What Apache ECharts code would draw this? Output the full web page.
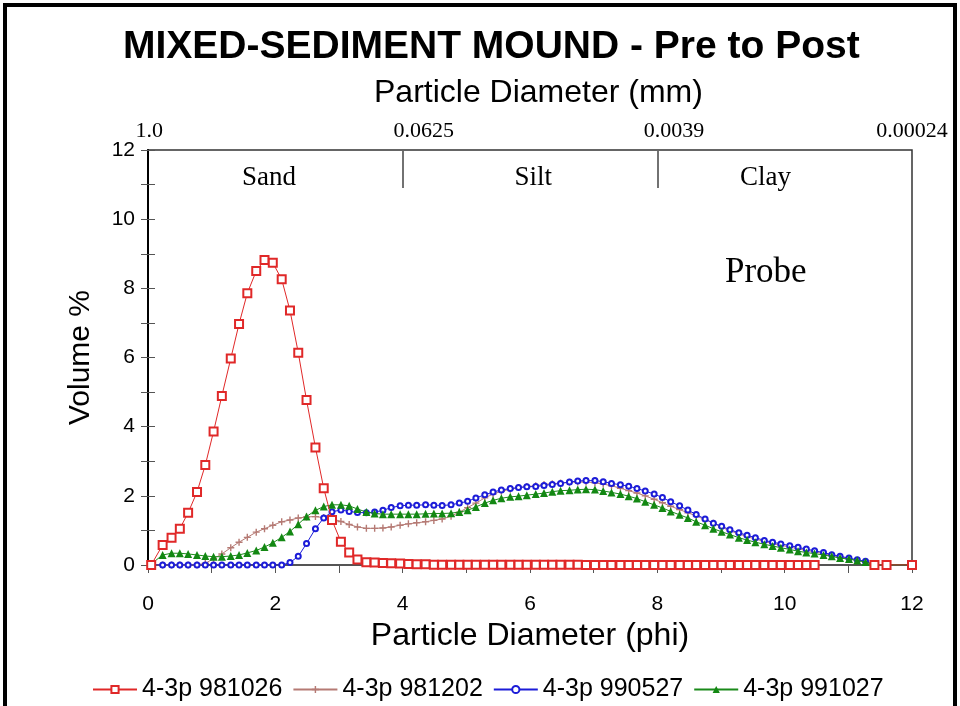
<!DOCTYPE html>
<html>
<head>
<meta charset="utf-8">
<script src="https://cdn.jsdelivr.net/npm/echarts@6/dist/echarts.min.js"></script>
<style>
  html, body { margin: 0; padding: 0; background: #fff; }
  #chart { width: 960px; height: 706px; }
</style>
</head>
<body>
<div id="chart"></div>
<script>
// particle diameter (phi) of each size class
const phi = [
  0.05, 0.23, 0.37, 0.50, 0.63, 0.77, 0.90, 1.03, 1.16, 1.30,
  1.43, 1.56, 1.70, 1.83, 1.96, 2.10, 2.23, 2.36, 2.49, 2.63,
  2.76, 2.89, 3.03, 3.16, 3.29, 3.43, 3.56, 3.69, 3.82, 3.96,
  4.09, 4.22, 4.36, 4.49, 4.62, 4.76, 4.89, 5.02, 5.15, 5.29,
  5.42, 5.55, 5.69, 5.82, 5.95, 6.09, 6.22, 6.35, 6.48, 6.62,
  6.75, 6.88, 7.02, 7.15, 7.28, 7.42, 7.55, 7.68, 7.81, 7.95,
  8.08, 8.21, 8.35, 8.48, 8.61, 8.75, 8.88, 9.01, 9.14, 9.28,
  9.41, 9.54, 9.68, 9.81, 9.94, 10.08, 10.21, 10.34, 10.47, 10.61,
  10.74, 10.87, 11.01, 11.14, 11.27, 11.41
];
const tailPhi = [11.6, 12.0];

// volume % per sample
const s981026 = [
  0, 0.58, 0.79, 1.05, 1.51, 2.11, 2.89, 3.86, 4.89, 5.97,
  6.97, 7.86, 8.50, 8.82, 8.74, 8.26, 7.36, 6.14, 4.77, 3.40,
  2.22, 1.30, 0.67, 0.36, 0.16, 0.08, 0.07, 0.06, 0.05, 0.04,
  0.03, 0.02, 0.02, 0.01, 0.01, 0.01, 0.01, 0.01, 0.01, 0.01,
  0.01, 0.01, 0.01, 0.01, 0.01, 0.01, 0.01, 0.01, 0.01, 0.01,
  0.01, 0, 0, 0, 0, 0, 0, 0, 0, 0,
  0, 0, 0, 0, 0, 0, 0, 0, 0, 0,
  0, 0, 0, 0, 0, 0, 0, 0, 0, null,
  null, null, null, null, null, 0
];
const s981026Tail = [0, 0];

const s981202 = [
  0, 0, 0, 0, 0, 0, 0.05, 0.18, 0.32, 0.50,
  0.66, 0.80, 0.95, 1.05, 1.15, 1.25, 1.30, 1.36, 1.39, 1.40,
  1.37, 1.34, 1.26, 1.17, 1.10, 1.06, 1.06, 1.07, 1.10, 1.15,
  1.19, 1.22, 1.25, 1.29, 1.33, 1.41, 1.53, 1.66, 1.79, 1.94,
  2.05, 2.13, 2.19, 2.24, 2.27, 2.29, 2.33, 2.35, 2.37, 2.39,
  2.40, 2.40, 2.38, 2.34, 2.29, 2.22, 2.15, 2.08, 2.00, 1.90,
  1.80, 1.70, 1.60, 1.51, 1.42, 1.31, 1.21, 1.09, 0.99, 0.90,
  0.82, 0.75, 0.68, 0.62, 0.57, 0.52, 0.47, 0.42, 0.38, 0.33,
  0.28, 0.23, 0.18, 0.13, 0.08, 0
];

const s990527 = [
  0, 0, 0, 0, 0, 0, 0, 0, 0, 0,
  0, 0, 0, 0, 0, 0, 0.07, 0.25, 0.62, 1.05,
  1.36, 1.54, 1.59, 1.55, 1.52, 1.51, 1.53, 1.58, 1.66, 1.71,
  1.73, 1.73, 1.74, 1.73, 1.72, 1.74, 1.79, 1.84, 1.94, 2.03,
  2.11, 2.17, 2.21, 2.24, 2.26, 2.27, 2.30, 2.33, 2.36, 2.40,
  2.43, 2.44, 2.44, 2.41, 2.36, 2.32, 2.28, 2.21, 2.14, 2.05,
  1.95, 1.83, 1.71, 1.59, 1.46, 1.33, 1.21, 1.12, 1.02, 0.93,
  0.86, 0.79, 0.71, 0.66, 0.61, 0.56, 0.51, 0.46, 0.41, 0.36,
  0.30, 0.25, 0.20, 0.15, 0.11, 0
];

const s991027 = [
  0.03, 0.29, 0.34, 0.34, 0.32, 0.29, 0.26, 0.24, 0.24, 0.26,
  0.29, 0.35, 0.42, 0.52, 0.64, 0.80, 0.97, 1.18, 1.40, 1.58,
  1.69, 1.74, 1.74, 1.71, 1.62, 1.53, 1.49, 1.47, 1.47, 1.47,
  1.47, 1.47, 1.48, 1.49, 1.49, 1.50, 1.53, 1.58, 1.68, 1.79,
  1.87, 1.93, 1.97, 1.99, 2.02, 2.05, 2.08, 2.12, 2.15, 2.16,
  2.18, 2.19, 2.18, 2.14, 2.10, 2.05, 1.99, 1.92, 1.83, 1.74,
  1.65, 1.55, 1.45, 1.36, 1.25, 1.15, 1.05, 0.96, 0.88, 0.79,
  0.72, 0.66, 0.60, 0.55, 0.50, 0.45, 0.40, 0.36, 0.33, 0.29,
  0.25, 0.20, 0.17, 0.13, 0.09, 0
];
const s991027Tail = [0, 0];

// top axis: diameter in mm, and size classes
const mmPos = [0.02, 4.33, 8.26, 12];
const mmLabels = ['1.0', '0.0625', '0.0039', '0.00024'];
const classPos = [1.9, 6.05, 9.7];
const classNames = ['Sand', 'Silt', 'Clay'];
const classBounds = [4, 8];

function pairs(xs, ys) {
  return xs.map((x, i) => [x, ys[i]]);
}

function nearest(list, v) {
  let best = 0;
  list.forEach((p, i) => { if (Math.abs(p - v) < Math.abs(list[best] - v)) best = i; });
  return best;
}

const chart = echarts.init(document.getElementById('chart'), null, { renderer: 'canvas' });

const sans = 'Liberation Sans, Arial, sans-serif';
const serif = 'Liberation Serif, Times New Roman, serif';
const plus = 'path://M4,0H6V4H10V6H6V10H4V6H0V4H4Z';

const option = {
  animation: false,
  backgroundColor: '#fff',
  title: [
    {
      text: 'MIXED-SEDIMENT MOUND - Pre to Post',
      left: 118, top: 23,
      textStyle: { fontFamily: sans, fontSize: 39, fontWeight: 'bold', color: '#000' }
    },
    {
      text: 'Particle Diameter (mm)',
      left: 369, top: 72,
      textStyle: { fontFamily: sans, fontSize: 32, fontWeight: 'normal', color: '#000' }
    },
    {
      text: 'Probe',
      left: 720, top: 250,
      textStyle: { fontFamily: serif, fontSize: 35, fontWeight: 'normal', color: '#000' }
    }
  ],
  graphic: [{
    type: 'rect',
    shape: { x: 5, y: 5, width: 950, height: 730 },
    style: { fill: 'none', stroke: '#000', lineWidth: 4 },
    silent: true
  }],
  legend: {
    left: 87, top: 672,
    itemWidth: 44, itemHeight: 9, itemGap: 10,
    textStyle: { fontFamily: sans, fontSize: 25, color: '#000' },
    data: ['4-3p 981026', '4-3p 981202', '4-3p 990527', '4-3p 991027']
  },
  grid: {
    left: 148, right: 48, top: 150, bottom: 141,
    show: true, borderColor: '#333', borderWidth: 1.5, backgroundColor: 'transparent'
  },
  xAxis: [
    {
      type: 'value', position: 'bottom', min: 0, max: 12, interval: 2,
      name: 'Particle Diameter (phi)', nameLocation: 'middle', nameGap: 50,
      nameTextStyle: { fontFamily: sans, fontSize: 32, color: '#000' },
      axisLine: { onZero: false, lineStyle: { color: '#555', width: 2 } },
      axisTick: { length: 8, lineStyle: { color: '#555' } },
      minorTick: { show: true, splitNumber: 2, length: 8, lineStyle: { color: '#555' } },
      axisLabel: { fontFamily: sans, fontSize: 21, color: '#000', margin: 29 },
      splitLine: { show: false }
    },
    {
      type: 'value', position: 'top', min: 0, max: 12,
      axisLine: { show: false, onZero: false },
      axisTick: { show: false },
      splitLine: { show: false },
      axisLabel: {
        customValues: mmPos,
        margin: 8,
        fontFamily: serif, fontSize: 22, color: '#000',
        formatter: function (v) { return mmLabels[nearest(mmPos, v)]; }
      }
    },
    {
      type: 'value', position: 'top', min: 0, max: 12, offset: -38,
      axisLine: { show: false, onZero: false },
      axisTick: { show: true, customValues: classBounds, length: 37, lineStyle: { color: '#444', width: 1.5 } },
      splitLine: { show: false },
      axisLabel: {
        customValues: classPos,
        margin: -3,
        fontFamily: serif, fontSize: 27, color: '#000',
        formatter: function (v) { return classNames[nearest(classPos, v)]; }
      }
    }
  ],
  yAxis: [
    {
      type: 'value', min: 0, max: 12, interval: 2,
      name: 'Volume %', nameLocation: 'middle', nameGap: 52,
      nameTextStyle: { fontFamily: sans, fontSize: 30, color: '#000' },
      axisLine: { show: true, onZero: false, lineStyle: { color: '#000', width: 2 } },
      axisTick: { show: true, length: 7, lineStyle: { color: '#555' } },
      minorTick: { show: true, splitNumber: 2, length: 7, lineStyle: { color: '#555' } },
      axisLabel: { fontFamily: sans, fontSize: 21, color: '#000', margin: 13 },
      splitLine: { show: false }
    },
    {
      type: 'value', min: 0, max: 12, interval: 1, position: 'left',
      axisLine: { show: false, onZero: false },
      axisTick: { show: true, inside: true, length: 7, lineStyle: { color: '#555' } },
      axisLabel: { show: false },
      splitLine: { show: false }
    }
  ],
  series: [
    {
      name: '4-3p 981202', type: 'line',
      data: pairs(phi, s981202),
      symbol: plus, symbolSize: 7,
      lineStyle: { color: '#b57a74', width: 1 },
      itemStyle: { color: '#b57a74' },
      z: 2
    },
    {
      name: '4-3p 990527', type: 'line',
      data: pairs(phi, s990527),
      symbol: 'emptyCircle', symbolSize: 5,
      lineStyle: { color: '#1c1cd8', width: 1 },
      itemStyle: { color: '#1c1cd8' },
      z: 3
    },
    {
      name: '4-3p 991027', type: 'line',
      data: pairs(phi, s991027).concat(pairs(tailPhi, s991027Tail)),
      symbol: 'triangle', symbolSize: 8,
      lineStyle: { color: '#1a8a1a', width: 1 },
      itemStyle: { color: '#138813' },
      z: 4
    },
    {
      name: '4-3p 981026', type: 'line',
      data: pairs(phi, s981026).concat(pairs(tailPhi, s981026Tail)),
      connectNulls: false,
      symbol: 'emptyRect', symbolSize: 8,
      lineStyle: { color: '#e02828', width: 1 },
      itemStyle: { color: '#e02828' },
      z: 5
    }
  ]
};

chart.setOption(option);
</script>
</body>
</html>
